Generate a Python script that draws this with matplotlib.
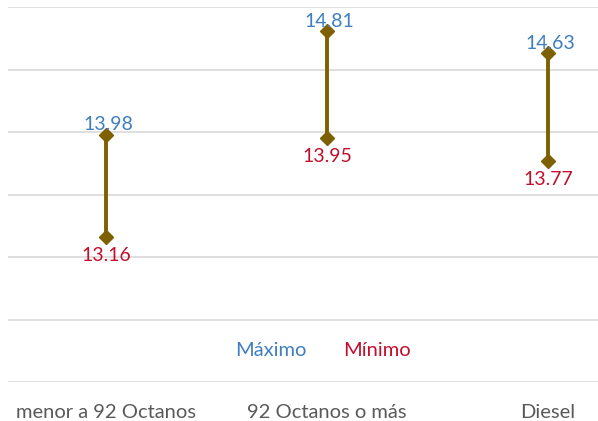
import matplotlib
matplotlib.use("Agg")
import matplotlib.pyplot as plt

categories = ["menor a 92 Octanos", "92 Octanos o más", "Diesel"]
maximo = [13.98, 14.81, 14.63]
minimo = [13.16, 13.95, 13.77]

plt.rcParams["font.family"] = ["Lato", "DejaVu Sans"]

LINE = "#7f6000"
BLUE = "#3f7fbf"
RED = "#c0102c"
GRAY = "#595959"

W, H = 598, 421
fig = plt.figure(figsize=(W / 100, H / 100), dpi=100)
# axes: x from 8px to right edge, y from 15.0 (7px) to 12.0 (382px)
ax = fig.add_axes([8 / W, 1 - 382 / H, 1 - 8 / W, 375 / H])

x = list(range(len(categories)))
for i in x:
    ax.plot([i, i], [minimo[i], maximo[i]], color=LINE, lw=2.8,
            marker="D", ms=7, mfc=LINE, mec=LINE, zorder=3)
    ax.annotate(f"{maximo[i]:.2f}", (i, maximo[i]), xytext=(2, 1),
                textcoords="offset pixels", ha="center", va="bottom",
                color=BLUE, fontsize=14)
    ax.annotate(f"{minimo[i]:.2f}", (i, minimo[i]), xytext=(0, -10),
                textcoords="offset pixels", ha="center", va="top",
                color=RED, fontsize=14)

ax.set_xlim(-0.443, 2.226)
ax.set_ylim(12, 15)
ax.set_yticks([12, 12.5, 13, 13.5, 14, 14.5, 15])
ax.yaxis.grid(True, color="#d9d9d9", lw=1.2)
ax.set_axisbelow(True)
ax.tick_params(left=False, labelleft=False, bottom=False)
for s in ax.spines.values():
    s.set_visible(False)

ax.set_xticks(x)
ax.set_xticklabels(categories, color=GRAY, fontsize=14.5)
ax.tick_params(axis="x", pad=12)

fig.text(271 / W, 1 - 350 / H, "Máximo", color=BLUE, fontsize=14.5,
         ha="center", va="center")
fig.text(377 / W, 1 - 350 / H, "Mínimo", color=RED, fontsize=14.5,
         ha="center", va="center")

fig.savefig("out.png", dpi=100)
